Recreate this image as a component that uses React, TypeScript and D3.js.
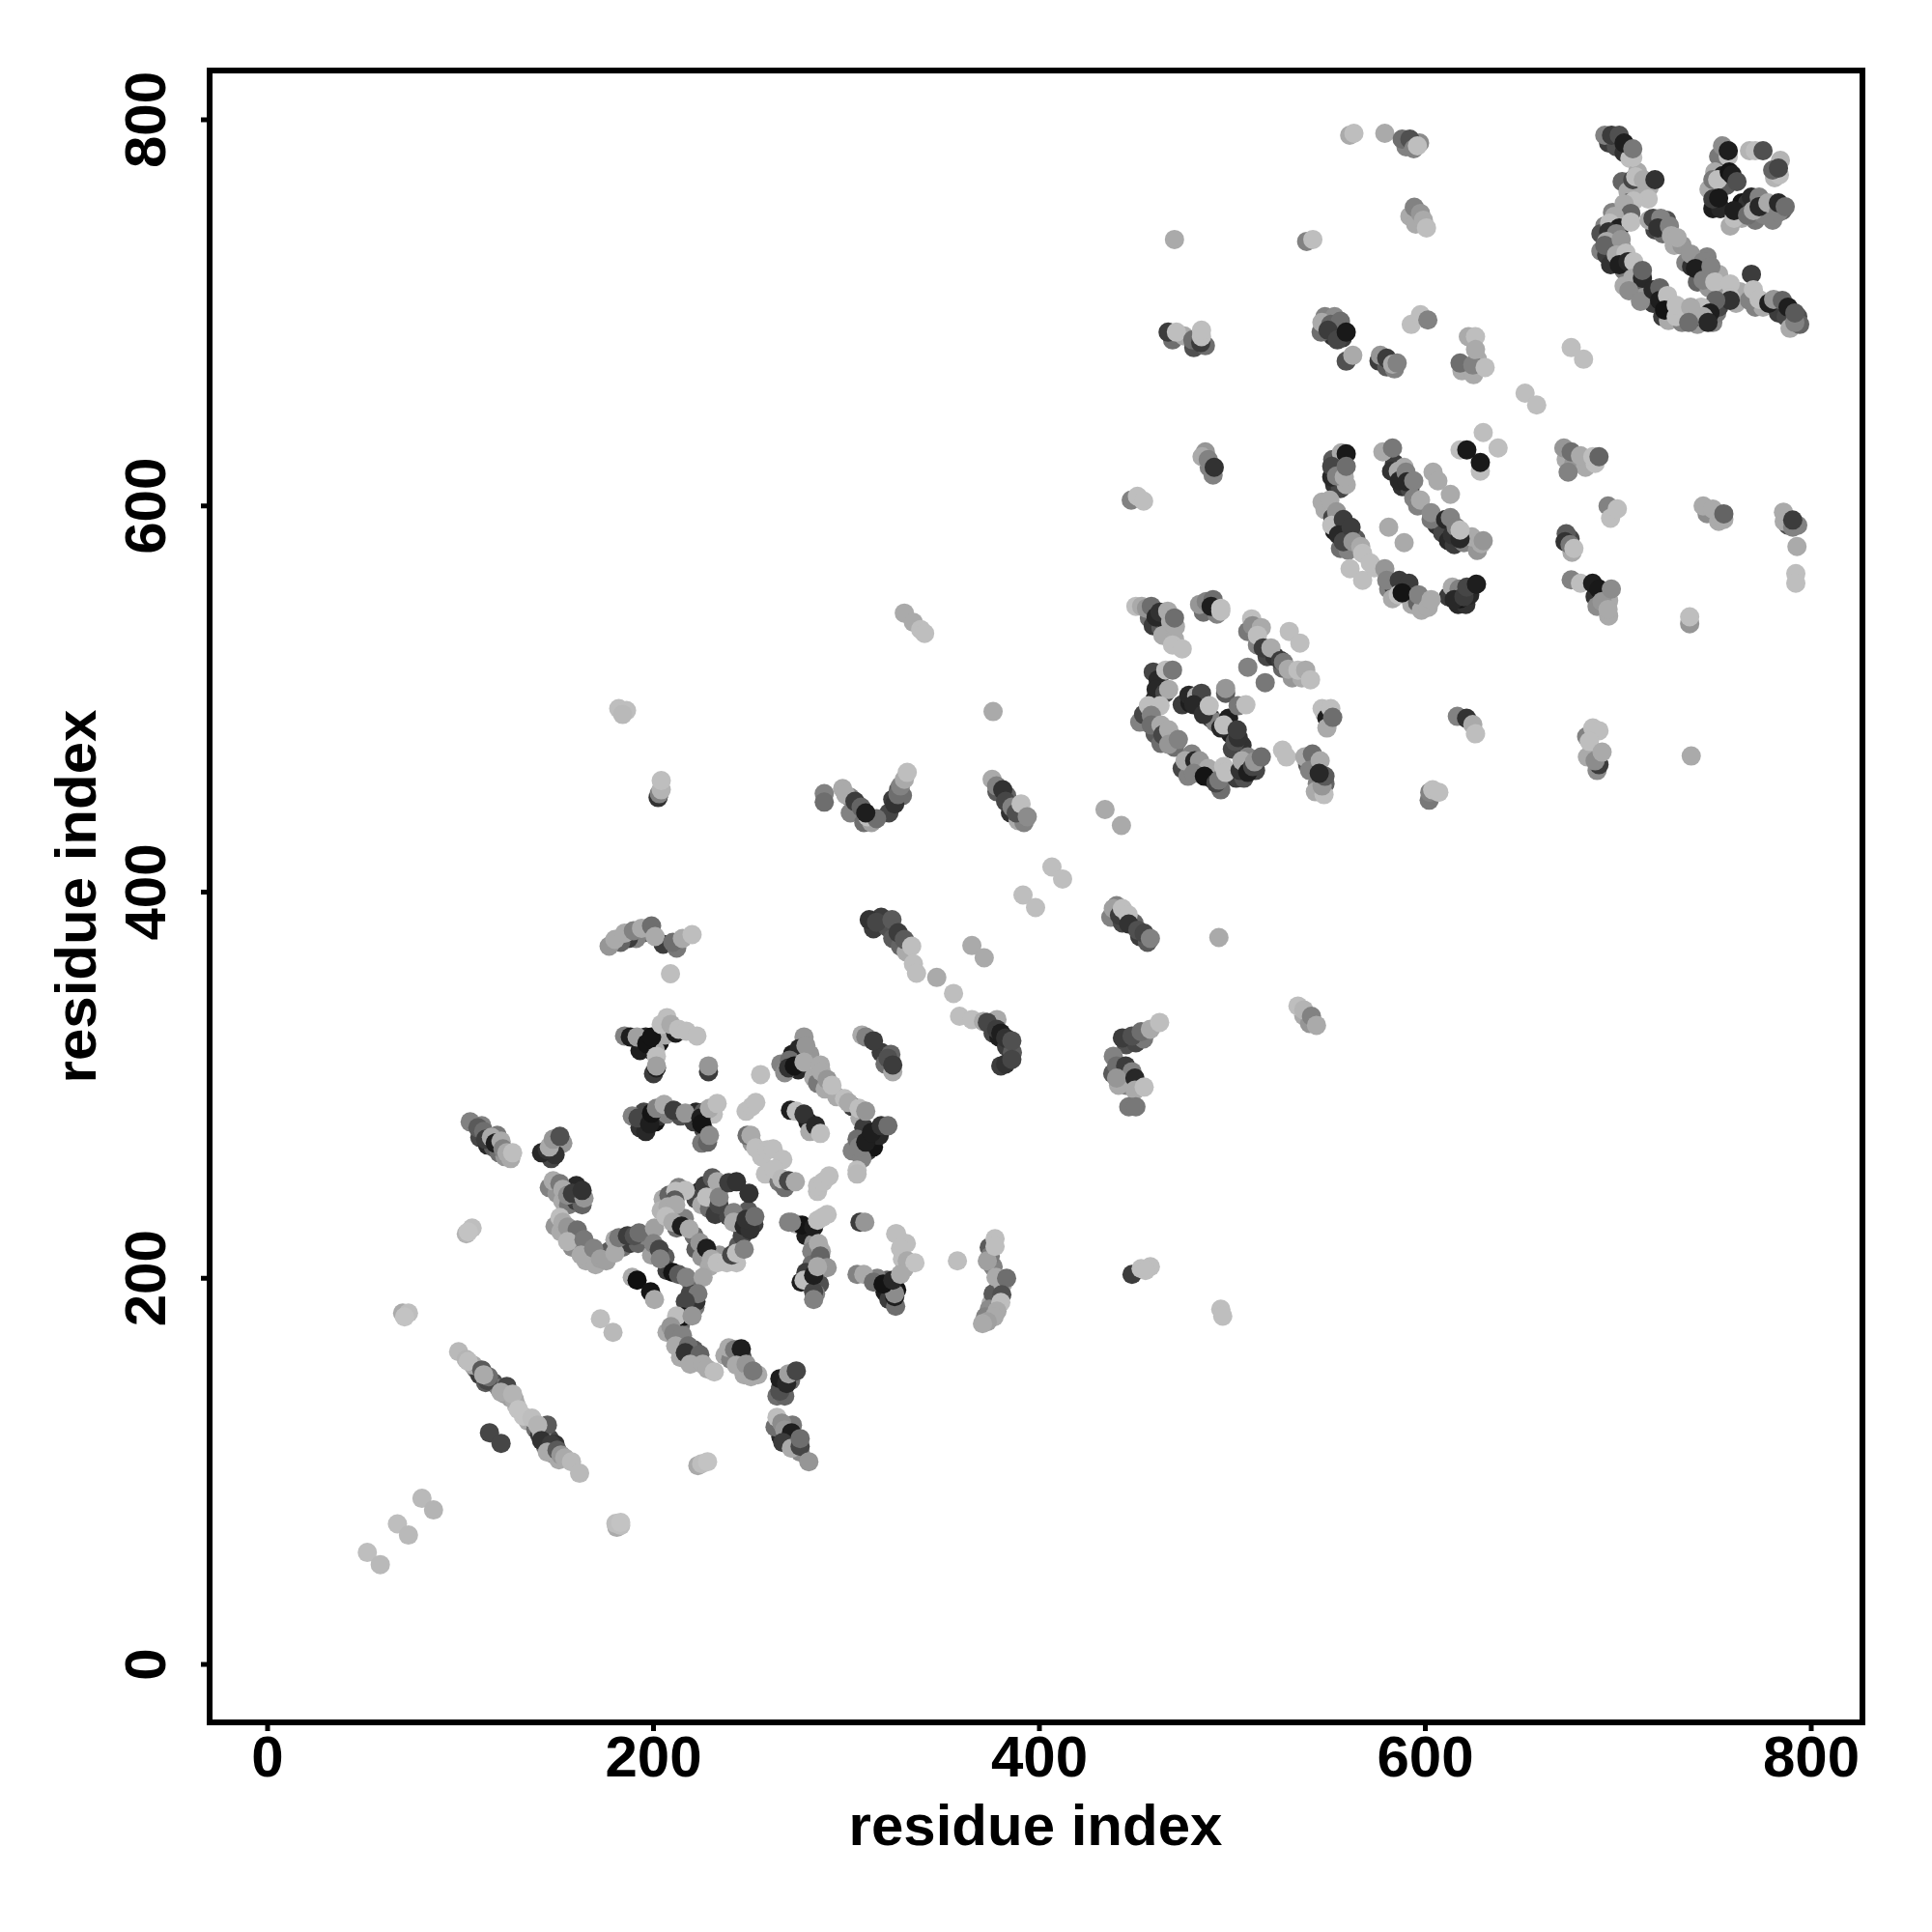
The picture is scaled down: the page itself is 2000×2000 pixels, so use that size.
import React from "react";
import * as d3 from "d3";

type P = [number, number, number];
const tickValues = [0, 200, 400, 600, 800];
const axisTitle = "residue index";

const underLower: P[] = [
[108,153,110],[110,150,60],[113,146,90],[117,146,80],[120,143,120],[123,140,150],[126,138,160],[129,134,190],[135,126,170],[139,122,110],[141,119,60],[144,113,120],[148,109,150],[151,106,170],[146,117,70],[149,114,50],
[110,273,70],[114,269,40],[117,268,90],[120,265,110],[123,263,150],[126,262,170],[111,279,130],[119,274,120],
[147,262,70],[150,268,60],[153,270,150],[149,264,50],
[146,247,130],[150,244,150],[153,240,170],[156,238,120],[160,240,60],[163,238,100],[160,248,40],[149,227,150],[152,224,170],[157,222,130],[158,216,140],[166,216,150],[165,209,170],[170,207,170],[177,214,90],[184,216,110],[188,218,60],[192,218,100],[196,222,130],
[199,212,160],[206,211,90],[207,204,60],[220,196,110],[219,192,70],[218,185,40],[214,176,110],[207,172,170],[213,167,60],[221,163,90],[214,159,170],[222,158,120],
[237,160,170],[240,158,130],[246,159,70],[247,150,170],[254,150,170],
[266,144,50],[271,147,110],[264,139,110],[268,139,100],
[205,241,170],[204,235,180],[208,243,100],[216,231,130],[212,226,110],[221,222,110],[222,215,90],[225,211,150],[234,212,150],[229,206,170],[243,208,190],[244,217,90],[224,245,40],[222,241,70],[225,238,170],[231,245,50],[235,248,80],[229,236,110],[232,233,60],[244,228,50],[249,235,90],[252,228,60],[246,222,70],
[193,318,30],[196,325,40],[199,318,30],[203,322,20],[206,326,170],[201,318,170],[200,306,60],
[193,278,50],[196,276,40],[195,286,70],[201,281,20],[203,284,50],[207,285,130],[214,284,80],[221,281,60],[222,286,40],[226,286,90],[226,277,70],[225,270,120],[231,285,190],
[266,311,130],[272,316,30],[275,308,40],[281,316,150],[276,314,60],[283,304,170],[285,301,120],[289,298,170],[295,294,170],[303,289,60],[307,283,170],
[318,317,60],[320,311,110],[323,316,100],
[311,266,60],[314,268,20],[317,274,40],[309,278,60],[303,266,130],[308,262,130],
[280,281,30],[281,276,170],[271,287,30],
[256,263,190],[251,270,150],[258,254,190],[265,250,120],[268,247,110],[285,245,190],
[279,222,30],[283,218,150],[282,214,130],[287,214,170],[282,207,110],[279,203,60],[282,197,30],[286,197,80],[284,192,130],
[320,193,30],[322,189,60],[321,199,90],[326,194,20],[330,205,170],[329,210,190],[316,200,130],[331,218,190],
[375,187,170],[379,189,120],[376,192,90],[374,184,140],[372,180,130],[381,197,170],[376,206,130],[374,216,90],
[266,118,40],[270,116,50],[272,124,120],[273,114,100],[276,110,140],[263,123,110],
];

const underMiddle: P[] = [
[195,379,100],[191,376,130],[187,376,60],[183,374,100],[205,373,60],[212,371,120],
[302,449,130],[305,443,30],[302,441,130],[309,436,110],[313,436,160],
[322,441,70],[324,448,60],[327,453,90],[329,450,110],
[378,452,90],[383,450,100],[385,441,50],[389,437,170],[392,436,130],
[314,381,60],[318,387,60],[321,382,80],[324,376,90],[328,372,100],[331,369,170],
[376,327,70],[379,325,30],[383,320,60],[386,317,90],[380,310,60],[378,334,170],
[437,387,130],[440,393,130],[443,384,70],[449,384,100],[452,377,60],[456,374,90],
[445,321,80],[450,322,70],[454,324,120],[438,306,90],[443,306,40],[446,302,80],[445,300,130],[441,300,170],
[537,336,170],[540,332,150],
[457,542,110],[459,538,60],[463,537,90],[466,540,30],[464,533,170],[470,531,170],
[485,545,110],[492,544,130],
[508,535,120],[513,528,130],[518,522,70],[522,522,50],[526,516,100],[531,511,150],[536,511,170],
[460,500,30],[463,507,90],[459,514,70],[456,489,50],[452,488,130],[460,482,90],[463,477,110],[470,475,110],[469,480,60],
[474,497,60],[478,498,30],[483,497,70],[489,490,60],[491,488,130],[499,482,30],[505,476,50],[500,474,70],[498,490,30],
[474,464,70],[477,460,130],[483,463,40],[489,459,50],[494,453,110],[499,461,110],[502,459,60],[506,459,80],[512,463,70],[508,470,130],
[539,466,90],[543,465,70],[544,456,130],[543,452,170],[548,456,100],[548,492,170],
];

const underUpper: P[] = [
[553,611,50],[556,609,70],[559,611,170],[552,624,90],[555,622,30],
[584,622,60],[588,610,50],[592,609,70],[596,600,130],[589,620,170],
[606,590,50],[609,586,70],[612,582,40],[615,580,60],[620,581,130],[627,577,150],[624,584,170],
[548,598,170],[552,594,70],[553,587,30],[556,590,110],[559,585,50],[556,578,110],[560,577,130],[564,583,90],
[581,557,130],[584,557,60],[590,554,60],[593,549,170],[596,550,100],[598,546,170],[583,552,170],
[612,553,60],[617,549,40],[621,549,50],[618,552,20],[623,554,40],
[590,786,130],[597,788,140],[592,750,170],[595,746,170],[552,688,50],[557,687,60],[546,690,110],[548,698,130],[553,698,140],
[576,675,60],[580,672,90],[584,671,130],[619,670,170],[627,676,170],[625,668,170],
[469,686,110],[475,688,170],[480,682,80],[486,683,110],[488,620,130],[486,628,150],
[673,624,170],[677,622,150],[683,620,170],[688,622,190],[675,583,70],[676,576,170],[688,553,50],[692,553,60],[689,548,140],[695,551,170],[695,543,170],
[746,596,140],[752,592,170],[788,590,80],[786,592,170],[793,590,130],
[684,470,170],[689,463,140],
[695,788,60],[699,786,80],[703,783,50],[706,780,190],[710,773,170],[702,768,100],[705,763,170],[711,763,170],[716,765,170],
[697,752,130],[693,745,130],[691,741,80],[697,733,70],[691,732,130],[694,730,60],[702,733,60],[696,725,50],[703,722,120],[709,714,50],[703,714,170],[715,712,100],[713,708,150],
[718,705,60],[723,698,60],[727,702,140],[726,696,170],[733,702,170],[733,695,130],[738,698,50],[741,694,150],[749,695,130],[751,700,120],[752,703,70],[755,710,150],[763,711,170],[761,705,170],
[719,743,70],[723,741,110],[725,748,80],[729,735,170],[733,735,150],[735,726,130],[738,724,50],[742,720,60],[746,729,130],[741,716,100],[747,713,150],[752,720,170],
[771,703,130],[775,703,170],[783,700,60],[787,698,70],[789,692,170],[793,698,80],[794,694,100],
[752,781,120],[750,773,170],[754,771,30],[756,766,90],[747,764,170],[749,754,30],[753,754,40],[758,745,170],[764,757,20],[767,757,50],[771,748,120],[764,749,170],[775,751,130],[780,748,130],[785,753,100],[768,784,180],[784,779,180],[781,770,180],
];

const lowerLeft: P[] = [
[51.7,58,190],[58.4,51.7,185],[67.3,72.8,190],[73,67,185],[80,86,185],[86,80,180],
[181,71,170],[183,72,190],[180.5,73,190],[183,73.5,195],
[223,103,170],[225,104,190],[228,105,195],
[70,182,170],[73,182,190],[71,180,195],
[103,223,180],[106,226,190],[104,224,195],
[172.5,179,190],[179,172,185],
[99,162,185],[103,158,180],[106.5,155,170],[104,157,190],[111,152.5,90],[114,147,70],[114.5,149,110],[112,150,170],
[124,144,70],[121,141,170],[128,137,170],[127,140,180],[132.6,128.6,195],[130,132,195],
[137,127.6,190],[142,120,170],[145,124,90],[140,124,180],[142,116,50],[147,114,60],[145,110,170],[150,111,90],[152,108.5,150],[154,107,170],[157.5,105,185],[161.7,99,185],
[115,120,70],[121,114.5,70],
[105,281,130],[109,278,90],[112,276,110],[113,272,60],[116,273,170],[118,270,30],[121,271,170],[122,267,130],[124,265,170],[127,265,190],
[142,265,40],[145,266.5,50],[146,268,170],[148,272,150],[151.5,273.5,80],
];

const centerLoop: P[] = [
[148,250.5,170],[151.5,249,120],[153,246,170],[155.5,243,140],[158,244,60],[164,241.5,150],[163,245.5,50],
[151.5,231.5,190],[153,229,170],[155.5,226.5,150],[160.5,225,110],[155.5,219,180],[164,220,120],[162.5,212,170],[169,215.5,130],[172.5,210,160],[175.5,209,160],
[180,213,170],[180,220,170],[182,221,120],[186.5,222,60],[190,222,80],[192.5,223.5,110],[200.5,226,160],
[200,218,130],[203,215,70],[203.5,210,130],
[210,203,20],[213,202,90],[217,200.5,130],[225.7,200.5,165],
[221.5,185,120],[222,188,50],[223,192,120],[216.5,188,70],[215,180,20],[212,180.5,190],[220,180.5,150],[209,175,150],[210.5,171.5,130],[215,170.5,130],[211.5,165,170],[218,165,110],[216.5,161.5,50],[224,160.5,100],[219,155.5,170],[225.5,155.5,170],[228,153,170],[231.5,151.5,190],
[239,164,170],[242,163,120],[245.5,163.5,30],[243,155,170],[248,155.5,150],[250.5,149,170],[251.5,152,120],
[265.5,141.5,80],[265.5,148,30],[269,145.5,40],[270,150.5,160],[274,152,70],
[213,247,130],[211.5,245,190],[216.5,245.5,190],[211,240.5,90],[207.5,237,170],[211.5,238,170],[206.5,232,190],[210,229,170],[214.5,227,30],[218.5,225.5,170],[224,218.5,150],[227.5,215.5,30],[230,210,170],[233,208,190],[238,208,190],[240.5,212,70],[243,213,190],[247,215,130],
[226.5,248,60],[230.5,252,90],[233,250,170],[227.5,242,190],[234,238,70],[234,242,130],[239,249.5,60],[243,250,50],[249.5,244,50],[239,232,70],[241.5,234,130],[241.5,229,170],[247,227,40],[250,225,50],[248,230.5,50],[252.5,232,110],
[189,200.5,170],[191.5,199,15],[198.5,193,20],[200.5,189,170],
];

const upperCenter: P[] = [
[185,325.5,130],[188,325,30],[191.5,325,160],[196.5,321.5,20],[199,325,20],[201.5,309,30],[201.5,315,190],[201.5,310,160],
[211.5,327,30],[207,335,190],[204,331.5,190],[209,331.5,170],[213,329,190],[217,328,190],[222.5,325.5,190],
[228.5,307,60],[228.5,310,150],
[189,284,130],[192,283,70],[198,280,30],[199,285.5,20],[201.5,288,130],[205.5,290,170],[210.5,287,60],[216.5,285.5,150],[224.5,283,30],[225,280,20],[229,288,170],[233,290.5,190],[228,270.5,100],[229,274,140],
[255.5,305.5,190],[248,286.5,190],[251,289,190],[253,291,190],
[278,325,150],[275.5,319,40],[279,320.5,150],[270.5,313,110],[268,306.5,140],[270,309,50],[273,310,20],[278,312,170],
[286.5,310.5,170],[287,307,170],[290,303,150],[292.5,300,190],[299,293,190],[301,291,170],[306.5,288,190],[310,286.5,150],
[308,326,170],[310,325,130],[314,323,60],[321.5,314,80],[324,307,170],[324,310.5,60],
[274,286.5,190],[278,285,50],[284,279,40],[286.5,275,190],
[305.5,272,110],[306.5,268,130],[310,270.5,30],[313,275.5,30],[318,279,50],[321.5,279,110],
[305.5,256,190],[305.5,254,185],
[248.5,274,110],[250.5,274,170],[253,267.5,190],[259,266.5,190],[262,267,190],[267,261.5,190],[262.5,256.5,190],[266.5,251.5,185],[270,250.5,70],[273.5,250,170],
[285,248,190],[288,250,190],[291,253,190],
];

const lowerCenter: P[] = [
[270,229,130],[274,228,170],[277,227.5,20],[283,226.5,30],[271.5,229,130],[285,230,190],[290,233,190],[287.5,231.5,190],
[285.5,218,170],[286.5,211.5,100],[290,205.5,150],[276.5,198,30],[278,199,190],[283,193,70],[283,189,130],[283,201.5,30],[285,206,170],
[307,229,60],[309.5,229,150],
[326,223,190],[325.5,223,190],[328,215.5,190],[331.5,209,170],[335.5,208,195],[305.5,202,130],[309,202,170],[314,198,110],[325.5,185.5,110],[325,190.5,30],[325,192,140],[319,197,20],[324,199,40],[328,202,170],
[377,220.5,190],[374.5,211.5,120],[373,209,160],[377,216.5,190],[377.5,200.5,170],[383,200,110],[380.5,191.5,80],[380,187.5,190],[378,183,170],[376.5,180,170],[373,177.5,160],[370.5,176.5,170],
[357.5,209,190],
[264,128,190],[266.5,125,140],[268,121.5,150],[271.5,120,30],[267,115,60],[271.5,112,170],[276,113,70],[276,117,110],[280.5,105,150],
[448,202,60],[452.7,205,190],[457.5,206,190],[455,204,190],[494,184,190],[495,180.4,190],
];

const midBand: P[] = [
[182,495,190],[186,494,190],[184,492,185],
[202.4,449,50],[203,451,130],[204,453,180],[204,457.8,190],
[288.5,451,130],[288.5,446.6,110],[298,453.6,170],[299.6,450.5,170],[304.4,447,60],[307.6,444,100],[311,439,190],[315.6,438,110],[310,441,30],
[325,445.7,50],[326.7,450.5,110],[328,455,130],[330,458.4,170],[331.5,462,190],
[375.5,458.4,170],[377.8,455,130],[381,453,50],[382.5,447,70],[385.8,444,130],[388,441,80],[390.5,445.7,190],[393.7,439,140],
[330,544.5,170],[334.7,539.7,170],[338.5,536,190],[340.5,534,190],
[376,493.5,170],[434,442.8,170],[442.5,434.5,170],
[406.5,413,190],[412,406.8,190],[391.5,398.5,190],[398,392,190],
[177,372,150],[180,375.5,170],[185,378.7,170],[189.6,380,130],[193.8,381.3,170],[199,382.5,110],[200.8,377,170],[210,374,110],[215,376,170],[220,378,190],
[208.8,357.7,190],
[311.8,385.7,50],[315.6,384.4,70],[323.6,385.7,90],[326.8,379,60],[330,375.5,90],[333.8,372,190],[334.7,362.8,190],[336.3,358,190],[346.8,355.8,170],[355.5,347.5,190],[358.6,335.7,190],[365,334,190],[365,372.3,170],[371.4,366,170],
[371,333,170],[373,332.5,70],[377.8,329,60],[380,327,30],[382.5,324.5,50],[385.7,323,80],[382.5,311,50],[385.7,313.3,70],
[438.3,391.5,160],[441.5,388,60],[443,391.5,190],[446,388.3,190],[446.3,383.5,50],[451,380.3,80],[454.3,378.7,70],[457.5,376,130],
[493,376.5,170],[534,341,190],[537,339,180],[541,335.7,130],[543.6,331,170],
[443,324.5,60],[448,325.5,80],[452.7,327.7,110],[457.5,329,170],[462.3,332.5,190],
[438.3,315,130],[440,310,110],[444.7,310,60],[448,307,130],[440,303.7,150],[449.5,303.7,40],[449.5,297.4,170],[454.3,299,190],[446.3,288.8,120],[450,288.8,120],
];

const helixBlock: P[] = [
[450,548,190],[453,548,170],[455.5,547,150],[458,548,110],[460.5,542.5,40],[462.5,545,50],[466.5,545.5,170],[468,540,170],[470.5,537.5,170],[470,542,110],[469,528,190],[474,526,190],
[483,549,150],[486.5,550.5,130],[490,551.5,110],[489,548,30],[494,545.5,190],[494,547,190],
[510,541.5,190],[510.5,538,140],[515,537,170],[513,533,190],[516,526.5,60],[520,526.5,170],[525,520,60],[526.5,519,120],[529,515.5,170],[534,515,190],[538,515,170],[540.5,510,190],[529.5,535,190],[535,529,190],
[508,516.5,130],[517,508.5,120],
[461.5,510,40],[460.5,505,40],[465,503,70],[467,505,170],[465.5,515,190],[469,515,120],
[454,492,70],[456.5,496.5,190],[462.5,496.5,190],[458,491.5,130],[458,486.5,110],[463,486.5,170],[464,481.5,70],[467,484,170],[467,476.5,150],[472,479,130],
[477.5,502,40],[481.5,501.5,170],[484,503,70],[480,497,40],[485,492,50],[488,496.5,190],
[496.5,503,90],[496.5,505.5,150],[503,496.5,120],[507,497,190],
[494,485,40],[495.5,486.5,190],[501.5,478,80],[503,480,50],[502.5,484,60],
[479,471.5,130],[475.5,468,170],[480.5,468,40],[483,468,150],[487.5,464,170],[480,461.5,130],[485.5,460,20],[491.5,456.5,70],[493,458,120],[495.5,465,190],[496.5,462,190],[504,463,50],[505,468,170],[508,462,30],[510.5,465,70],[511.5,467.5,150],[515,470,110],
[526,473.5,190],[528,470,190],
[537.5,470,170],[541.5,471.5,110],[540,463,130],[545.5,468,170],[547.5,450.5,190],[546.5,455,150],[548,460,90],[545,461.5,40],
[546.5,495,190],[549,490,30],[549,485,170],[551,495,190],[552,490.5,110],
];

const sheetBlock: P[] = [
[556.5,627.5,170],[559,627,25],[551.5,615,40],[551.5,620.5,70],[554,615.5,130],[558,615,170],[559,620.5,110],
[578,628,170],[583,630,120],
[582.5,618,50],[586,618,170],[586.5,613,40],[590,617.5,130],[590.5,612.5,40],[594,613,130],[594,604,130],[597.5,603,170],[603,593,120],[603,596.5,140],[604,617.5,170],[606.5,613,170],[613,606,170],
[610.5,593,40],[613,594,130],[614,585,50],[616,589,130],[618,583,40],[618,587.5,190],[629,580.5,170],[630,582,150],
[618,629,190],[621.5,629,25],[628.5,618,190],[628.5,622.5,25],
[546.5,602,170],[550.5,603,170],[554,597,150],[551.5,590,190],[557.5,593,60],[555,585,40],[557.5,581.5,70],[561.5,589,60],[562.5,581.5,150],[566.5,579,170],[567.5,575.5,190],[561,567.5,190],[567.5,561.5,190],[573.5,568,190],[571.5,570.5,190],
[581,589,170],[589,581,170],
[579,567.5,150],[580,561.5,130],[586.5,561.5,60],[591.5,560,60],[586,554,190],[588,555,20],[596.5,554,130],[601.5,547.5,170],[603,551.5,170],
[614,558,170],[617.5,557,130],[615,551.5,40],[620,553,60],[621.5,558,70],[626.5,559.5,30],
];

const upperMid: P[] = [
[560.8,792,170],[563,793,190],[579,793,170],[588,790,110],[592,790,80],[594,785,130],[595.9,786.5,190],
[594.3,754.7,130],[597.5,751.5,150],[599,748,170],[600.6,744,190],
[470,738,170],[538.5,737,130],[541.7,738,190],
[466.7,690,60],[471,690,190],[479.5,686,110],[483.6,684.5,60],[484,687.7,190],[484,691,190],
[546.4,695,170],[551,694,100],[556,695.7,110],[549.6,691,60],[554.4,686,70],[559,690,25],[559,675,80],[562.4,678,170],
[576.7,678,150],[580,676.5,60],[583,673.4,170],[585.4,674,130],
[592.7,694,190],[597.5,699,190],[601.3,696.3,130],
[622.3,687.7,170],[626,687.7,190],[618,674,110],[624.6,673,130],[626,681,170],[631,671.7,190],
[675.6,682,190],[682,676,190],[651.7,658.4,190],[657.7,652.3,190],[630,638,190],[637.7,630,190],
[484.3,625.5,170],[487.5,624,130],[490,616,130],[490.6,620,50],
[447.6,603,130],[450.8,605,190],[454,602.5,190],
[671.8,630,150],[675.6,628,110],[674,617.5,130],[680.4,626,170],[686.8,625.5,190],[690,625.5,100],
[694.7,600,130],[696,593.6,190],[699.5,598.5,190],
[673,585.6,90],[672.4,581.5,50],[675,580,120],[677,578,190],
[675.6,561.7,130],[680.4,560,190],[686.7,560,30],[690,557,25],[691.6,550.5,150],[694.7,546.4,170],[696.4,557,140],
[744,600,170],[749,598.4,170],[754.7,593,170],[754.7,595.9,100],
[785.6,596.8,170],[790.4,589,130],[790.4,592.7,60],[792.6,579,170],[792,565,190],[792,560,190],
[737,539,150],[737,542.6,190],[737.8,470.5,170],
[683.6,480.5,130],[686.8,485,190],[690,483.6,190],[685,478,190],[690,466,60],[688,468,140],[691.6,472.5,170],
[616.6,491,130],[621.4,490,50],[624.6,486.8,170],[626,482,190],
[602,447.6,120],[602.3,451.7,130],[603.8,453,190],[607,451.7,190],
];

const topRight: P[] = [
[693,792,130],[696.5,792,60],[700.5,792,80],[703,788,30],[707.5,780.5,190],[707.5,785,120],
[707.5,769,70],[709,770.5,190],[713,769,170],[715.5,759,190],[719,769,50],[705.5,757,70],[708,758,190],
[703,756.5,170],[706.5,751.5,100],[698,750,170],[695.5,746.5,190],[700.5,744,30],[706.5,747,190],[695,742,50],[699,741,130],[694,737,170],[693,735,100],[701.5,738,150],
[699,730,170],[704,731,190],[700.5,725,30],[705,726.5,40],[708,726.5,190],[707.5,718,170],[712.5,718,40],[712.5,722,100],[705.5,711.5,140],[711.5,706,140],
[718,712,40],[721.5,713,100],[721.5,706.5,30],[725.5,709,190],[724,701.5,20],[730,698,190],[730,704,190],
[716,748,170],[718,749,70],[722,749,130],[720.5,744,50],[726.5,745,130],[727.5,740,170],[730.5,739,170],
[737.5,730.5,150],[744,726.5,130],[740,723,30],[744,717,130],[748,724,130],[750,716,190],
[758,715,190],[758,708,190],[758,706.5,50],[769,720,60],[768,706.5,130],[770,712,190],[773,707,190],
[750.5,706.5,100],[743,703,190],[747.5,700,30],[740,698,50],[744,698,170],[746.5,695,40],[737.5,703,170],[736.5,695,110],
[778,705,30],[780.5,707,150],[785,706.5,100],[788,703,30],[791.5,695,130],[791.5,700,90],
[754,786.5,140],[757,781,190],[757,784,30],[749,769,120],[751.5,769,190],[757.5,773,20],[759,771.5,30],[761.5,768,80],
[749,759,60],[752,759.5,25],[760,749,190],[760,753,30],[769,760,40],[773,760,130],[767,750.5,110],[770,753,170],[773,755,40],[777.5,757,170],[783,752,130],[783,757,40],[786.5,755,110],
[771,784,190],[775,784,80],[783.5,771.5,190],[780,774,100],[783,775,70],
];

const allPoints: P[] = [...underLower, ...underMiddle, ...underUpper, ...lowerLeft, ...centerLoop, ...upperCenter, ...lowerCenter, ...midBand, ...helixBlock, ...sheetBlock, ...upperMid, ...topRight];

const x = d3.scaleLinear().domain([0, 800]).range([277, 1875]);
const y = d3.scaleLinear().domain([0, 800]).range([1723, 124]);
const font = '"Liberation Sans", Arial, sans-serif';

export default function App() {
  return (
    <svg width={2000} height={2000} style={{ position: "absolute", left: 0, top: 0, background: "#fff" }} fontFamily={font} fontWeight="bold">
      {allPoints.map((d, i) => (
        <circle key={i} cx={x(d[0])} cy={y(d[1])} r={10} fill={d3.rgb(d[2], d[2], d[2]).formatHex()} />
      ))}
      <rect x={217} y={73} width={1711} height={1710} fill="none" stroke="#000" strokeWidth={6} />
      {tickValues.map((t) => (
        <g key={t}>
          <line x1={x(t)} x2={x(t)} y1={1783} y2={1792} stroke="#000" strokeWidth={5} />
          <text x={x(t)} y={1839} textAnchor="middle" fontSize={60}>{t}</text>
          <line x1={208} x2={217} y1={y(t)} y2={y(t)} stroke="#000" strokeWidth={5} />
          <text transform={`translate(171,${y(t)}) rotate(-90)`} textAnchor="middle" fontSize={60}>{t}</text>
        </g>
      ))}
      <text x={1072} y={1910} textAnchor="middle" fontSize={60}>{axisTitle}</text>
      <text transform={`translate(99,928) rotate(-90)`} textAnchor="middle" fontSize={60}>{axisTitle}</text>
    </svg>
  );
}
